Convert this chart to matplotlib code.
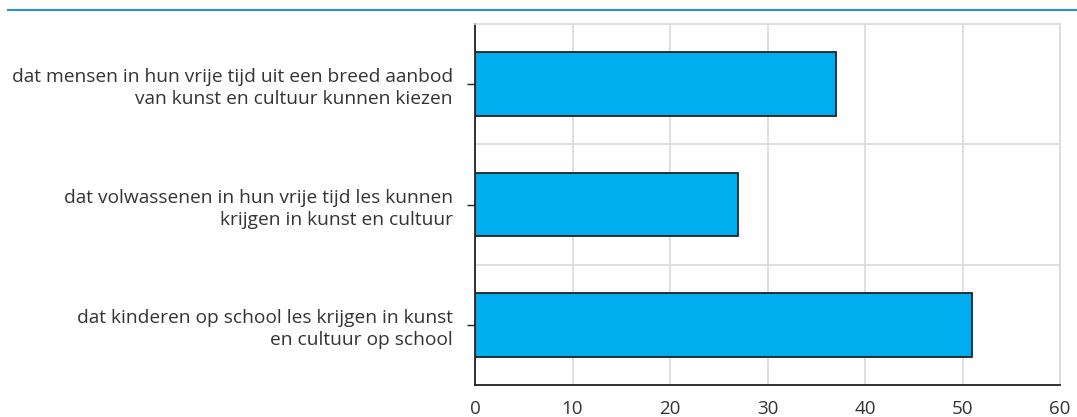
import matplotlib
matplotlib.use('Agg')
import matplotlib.pyplot as plt
from matplotlib.lines import Line2D

# Data
labels = [
    'dat mensen in hun vrije tijd uit een breed aanbod\nvan kunst en cultuur kunnen kiezen',
    'dat volwassenen in hun vrije tijd les kunnen\nkrijgen in kunst en cultuur',
    'dat kinderen op school les krijgen in kunst\nen cultuur op school',
]
values = [37, 27, 51]
xticks = [0, 10, 20, 30, 40, 50, 60]

plt.rcParams['font.family'] = ['Open Sans', 'DejaVu Sans']

fig = plt.figure(figsize=(10.77, 4.17), dpi=100)
ax = fig.add_axes([475 / 1077, 1 - 385 / 417, 585 / 1077, 361 / 417])

pos = list(range(len(values)))
ax.barh(pos, values, height=0.53, color='#00aeef', edgecolor='#222222', linewidth=1.3, zorder=3)

ax.set_xlim(0, 60)
ax.set_ylim(2.5, -0.5)
ax.set_xticks(xticks)
ax.set_xticklabels([str(t) for t in xticks], fontsize=13.5, color='#333333')
ax.set_yticks(pos)
ax.set_yticklabels(labels, fontsize=13.8, color='#333333', linespacing=1.3)
ax.set_yticks([0.5, 1.5], minor=True)

ax.tick_params(axis='x', length=0, pad=11)
ax.tick_params(axis='y', which='major', length=6, width=1, color='#222222', pad=10)
ax.tick_params(axis='y', which='minor', length=0)

ax.grid(axis='x', color='#d9d9d9', linewidth=1.2, zorder=0)
ax.grid(axis='y', which='minor', color='#d9d9d9', linewidth=1.2, zorder=0)

for s in ['top', 'right']:
    ax.spines[s].set_color('#d9d9d9')
    ax.spines[s].set_linewidth(1.2)
for s in ['left', 'bottom']:
    ax.spines[s].set_color('#222222')
    ax.spines[s].set_linewidth(1.3)

# Top blue rule
fig.add_artist(Line2D([8 / 1077, 1], [1 - 10 / 417, 1 - 10 / 417], color='#2b8fd0', linewidth=1.5))

fig.savefig('out.png', dpi=100)
